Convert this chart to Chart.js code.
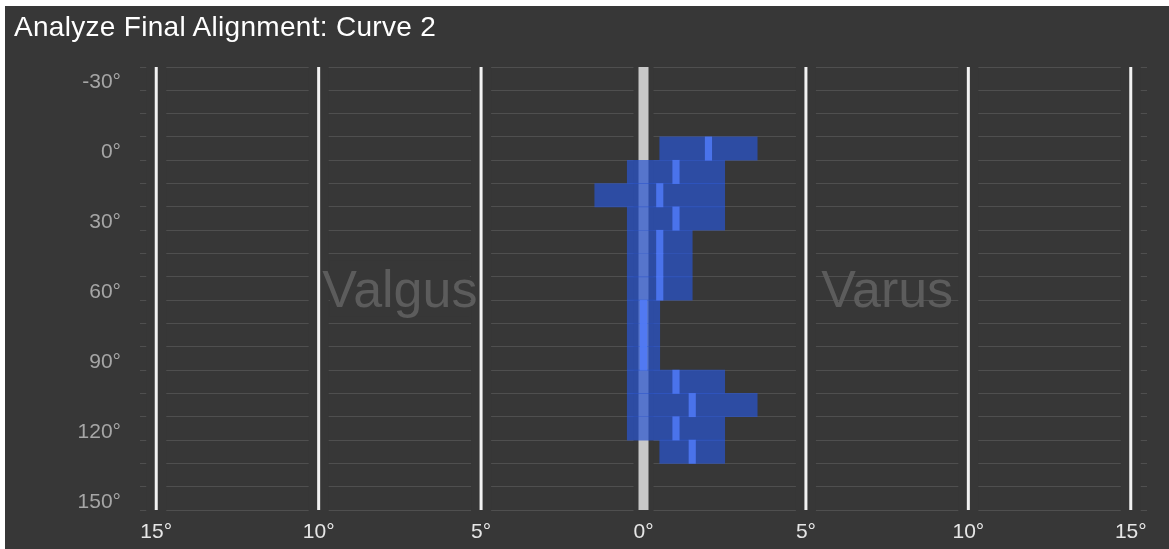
<!DOCTYPE html>
<html>
<head>
<meta charset="utf-8">
<script src="https://cdn.jsdelivr.net/npm/chart.js@4"></script>
<style>
  html, body { margin: 0; padding: 0; background: #ffffff; }
  #panel { position: absolute; left: 5px; top: 6px; width: 1164px; height: 543px; background: #373737; }
  #title { position: absolute; left: 9px; top: 6px; font: 28px 'Liberation Sans', Arial, sans-serif; letter-spacing: 0.3px; line-height: 30px; color: #ffffff; white-space: nowrap; }
  #chart { position: absolute; left: 0; top: 0; }
</style>
</head>
<body>
<div id="panel">
  <canvas id="chart" width="1164" height="543"></canvas>
  <div id="title">Analyze Final Alignment: Curve 2</div>
</div>
<script>
// flexion angle rows (deg), top to bottom
const yCategories = [-30, -20, -10, 0, 10, 20, 30, 40, 50, 60, 70, 80, 90, 100, 110, 120, 130, 140, 150];
// alignment range per row (deg, negative = valgus side)
const rangeLow  = [null, null, null, 0.5, -0.5, -1.5, -0.5, -0.5, -0.5, -0.5, -0.5, -0.5, -0.5, -0.5, -0.5, -0.5, 0.5, null, null];
const rangeHigh = [null, null, null, 3.5,  2.5,  2.5,  2.5,  1.5,  1.5,  1.5,  0.5,  0.5,  0.5,  2.5,  3.5,  2.5, 2.5, null, null];
// final alignment marker per row
const markerValues = [null, null, null, 2, 1, 0.5, 1, 0.5, 0.5, 0.5, 0, 0, 0, 1, 1.5, 1, 1.5, null, null];
// x axis ticks
const xTickValues = [-15, -10, -5, 0, 5, 10, 15];
const sideLabels = [{text: 'Valgus', at: -7.5, row: 60, mask: true}, {text: 'Varus', at: 7.5, row: 60, mask: false}];

const bgColor = '#373737';
const markerHalf = 0.1;

const rangeData = yCategories.map((c, i) => rangeLow[i] === null ? null : [rangeLow[i], rangeHigh[i]]);
const markerData = yCategories.map((c, i) => markerValues[i] === null ? null : [markerValues[i] - markerHalf, markerValues[i] + markerHalf]);

// vertical guide lines with a dark gap around them, plus Valgus / Varus captions
const guides = {
    id: 'guides',
    beforeDatasetsDraw(chart) {
        const ctx = chart.ctx;
        const area = chart.chartArea;
        const x = chart.scales.x;
        const y = chart.scales.y;
        const h = area.bottom - area.top;
        ctx.save();
        xTickValues.forEach(v => {
            const px = x.getPixelForValue(v);
            ctx.fillStyle = bgColor;
            ctx.fillRect(px - 10, area.top - 1, 20, h + 2);
        });
        xTickValues.forEach(v => {
            const px = x.getPixelForValue(v);
            if (v === 0) {
                ctx.fillStyle = '#c8c8c8';
                ctx.fillRect(px - 5, area.top, 10, h);
            } else {
                ctx.fillStyle = '#f2f2f2';
                ctx.fillRect(px - 1.5, area.top, 3, h);
            }
        });
        ctx.font = '52px "Liberation Sans", Arial, sans-serif';
        ctx.textAlign = 'center';
        ctx.textBaseline = 'alphabetic';
        sideLabels.forEach(s => {
            const px = x.getPixelForValue(s.at);
            const py = y.getPixelForValue(yCategories.indexOf(s.row));
            if (s.mask) {
                ctx.fillStyle = bgColor;
                ctx.fillRect(px - 70, py - 28, 140, 56);
            }
            ctx.fillStyle = '#5c5c5c';
            ctx.fillText(s.text, px, py + 18);
        });
        ctx.restore();
    }
};

new Chart(document.getElementById('chart'), {
    type: 'bar',
    data: {
        labels: yCategories.map(c => c + '°'),
        datasets: [
            {
                label: 'Final',
                data: markerData,
                backgroundColor: 'rgba(80, 122, 248, 0.85)',
                borderWidth: 0,
                grouped: false,
                order: 1,
                barPercentage: 1,
                categoryPercentage: 1
            },
            {
                label: 'Range',
                data: rangeData,
                backgroundColor: 'rgba(42, 84, 205, 0.72)',
                borderWidth: 0,
                grouped: false,
                order: 2,
                barPercentage: 1,
                categoryPercentage: 1
            }
        ]
    },
    options: {
        indexAxis: 'y',
        responsive: false,
        animation: false,
        devicePixelRatio: 1,
        layout: { padding: { top: 61, right: 22, left: 0, bottom: 0 } },
        scales: {
            x: {
                type: 'linear',
                min: -15.5,
                max: 15.5,
                afterBuildTicks: scale => { scale.ticks = xTickValues.map(v => ({ value: v })); },
                afterFit: scale => { scale.height = 39; },
                grid: { display: false },
                border: { display: false },
                ticks: {
                    color: '#e6e6e6',
                    font: { family: "'Liberation Sans', Arial, sans-serif", size: 21 },
                    padding: 2,
                    callback: v => Math.abs(v) + '°'
                }
            },
            y: {
                afterFit: scale => { scale.width = 135; },
                grid: { color: '#4f4f4f', lineWidth: 1, drawTicks: false },
                border: { display: false },
                ticks: {
                    color: '#a6a6a6',
                    font: { family: "'Liberation Sans', Arial, sans-serif", size: 21 },
                    padding: 19,
                    labelOffset: 4,
                    autoSkip: false,
                    callback: (v, i) => yCategories[i] % 30 === 0 ? yCategories[i] + '°' : ''
                }
            }
        },
        plugins: {
            legend: { display: false },
            tooltip: { enabled: false }
        }
    },
    plugins: [guides]
});
</script>
</body>
</html>
